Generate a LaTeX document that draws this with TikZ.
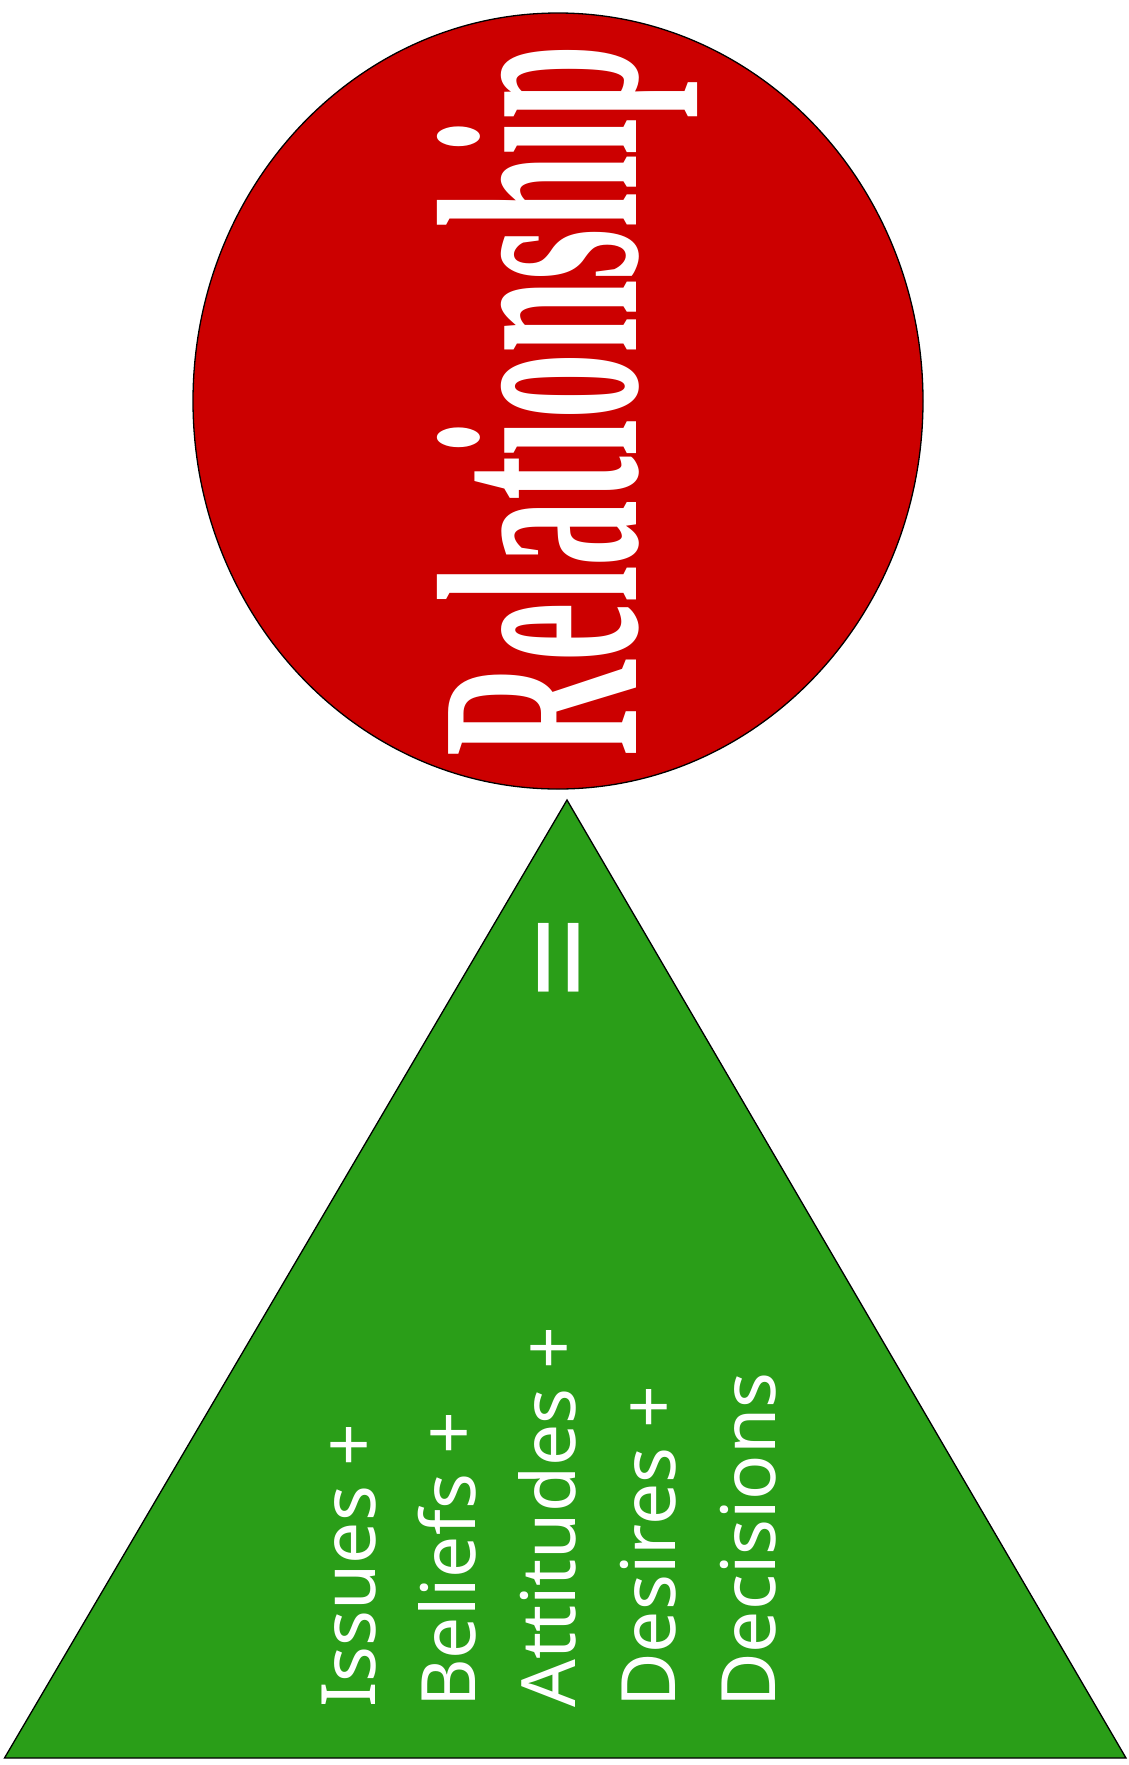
\documentclass[tikz,border=0pt]{standalone}
\usepackage{fontspec}
\usetikzlibrary{shapes.geometric}
\setmainfont{Liberation Serif}
\newfontfamily\bodysans{Noto Sans}
\definecolor{circred}{RGB}{204,0,0}
\definecolor{trigreen}{RGB}{42,158,24}
\tikzset{
  shapeline/.style={draw=black, line width=1.3pt},
  listtext/.style={text=white, inner sep=0pt, rotate=90, anchor=base west, font=\bodysans\fontsize{75}{90}\selectfont},
}
\begin{document}
\begin{tikzpicture}[x=1pt,y=1pt]
\useasboundingbox (0,0) rectangle (1128,-1765);
% triangle
\coordinate (apex) at (567,-800);
\coordinate (bl) at (4.5,-1758);
\coordinate (br) at (1126,-1758);
\draw[shapeline, fill=trigreen] (apex) -- (bl) -- (br) -- cycle;
% ellipse
\node (circ) [shapeline, fill=circred, ellipse, minimum width=730, minimum height=776, inner sep=0pt] at (558,-401) {};
\node (title) [text=white, inner sep=0pt, rotate=90, anchor=base] at (636,-401)
  {\scalebox{0.46}[1]{\fontsize{287}{300}\selectfont\bfseries Relationship}};
\node (eq) [text=white, inner sep=0pt, rotate=90, font=\bodysans\fontsize{150}{160}\selectfont] at (575,-958) {=};
\node (l1) [listtext] at (375,-1708) {Issues +};
\node (l2) [listtext] at (475,-1708) {Beliefs +};
\node (l3) [listtext] at (575,-1708) {Attitudes +};
\node (l4) [listtext] at (675,-1708) {Desires +};
\node (l5) [listtext] at (775,-1708) {Decisions};
\end{tikzpicture}
\end{document}
